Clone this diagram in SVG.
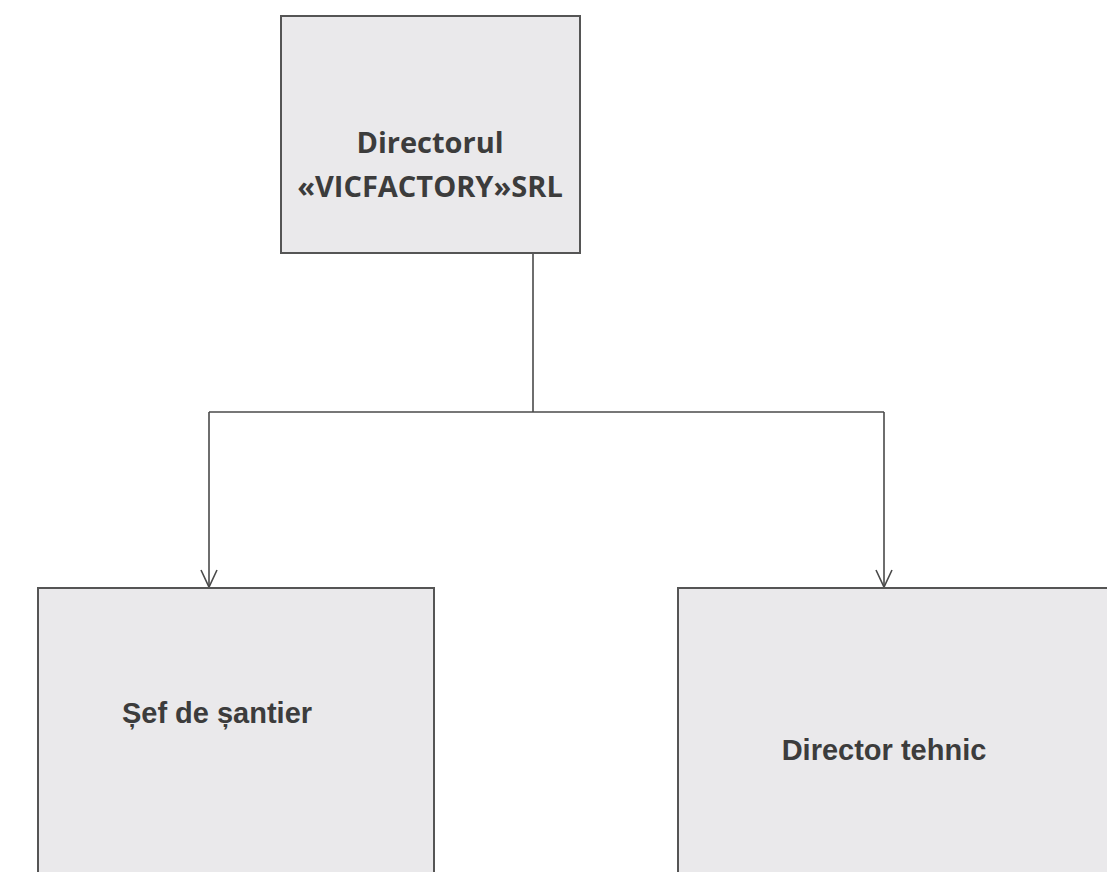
<svg xmlns="http://www.w3.org/2000/svg" width="1107" height="872" viewBox="0 0 1107 872">
  <style>
    .box { fill: #eae9eb; stroke: #555555; stroke-width: 2; }
    .conn { fill: none; stroke: #4a4a4a; stroke-width: 1.6; }
    .t1 { font-family: "Open Sans", "Liberation Sans", sans-serif; font-weight: bold; font-size: 29px; fill: #3c3c3c; text-anchor: middle; }
    .t2 { font-family: "Liberation Sans", Arial, sans-serif; font-weight: bold; font-size: 29px; fill: #3c3c3c; text-anchor: middle; }
  </style>
  <rect width="1107" height="872" fill="#ffffff"/>
  <g id="connectors">
    <path class="conn" d="M533,253 L533,412"/>
    <path class="conn" d="M209,412 L884,412"/>
    <line class="conn" x1="209" y1="412" x2="209" y2="587"/>
    <line class="conn" x1="884" y1="412" x2="884" y2="587"/>
    <path class="conn" d="M201,570 L209,587 L217,570"/>
    <path class="conn" d="M876,570 L884,587 L892,570"/>
  </g>
  <g id="node-director">
    <rect class="box" x="281" y="16" width="299" height="237"/>
    <text class="t1" x="430" y="153">Directorul</text>
    <text class="t1" x="430" y="197">«VICFACTORY»SRL</text>
  </g>
  <g id="node-sef-santier">
    <rect class="box" x="38" y="588" width="396" height="300"/>
    <text class="t2" x="217" y="723">Șef de șantier</text>
  </g>
  <g id="node-director-tehnic">
    <rect class="box" x="678" y="588" width="440" height="300"/>
    <text class="t2" x="884" y="760">Director tehnic</text>
  </g>
</svg>
